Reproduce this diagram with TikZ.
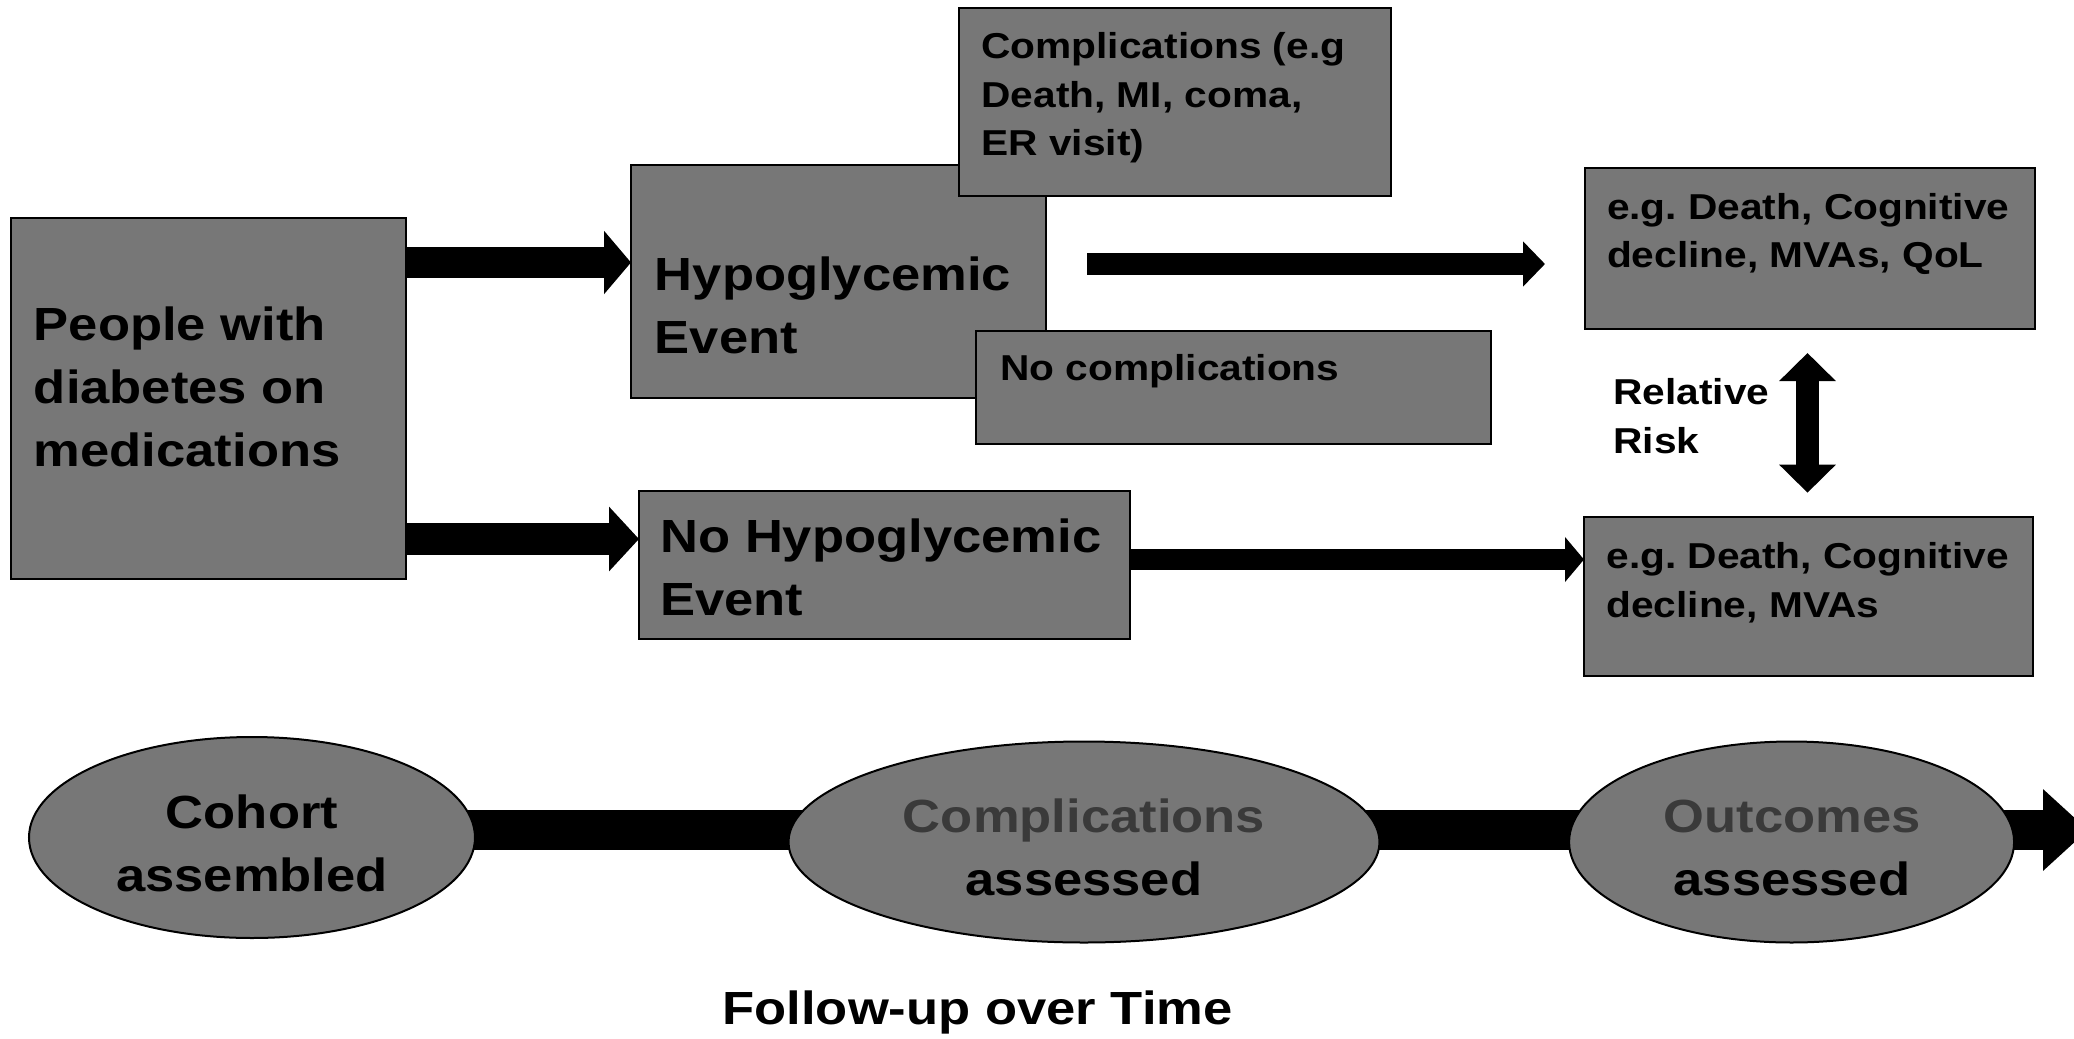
\documentclass[tikz,border=0pt]{standalone}
\usepackage{fontspec}
\setmainfont{Liberation Sans}[FakeStretch=1.13]
\usetikzlibrary{arrows.meta,shapes.geometric,backgrounds}
\definecolor{boxgray}{HTML}{777777}
\definecolor{dimtext}{HTML}{3A3A3A}
\newcommand\Lblock[1]{\vtop{\halign{##\hfil\cr#1\crcr}}}
\newcommand\Cblock[1]{\vtop{\halign{\hfil##\hfil\cr#1\crcr}}}
\frenchspacing
\begin{document}
\begin{tikzpicture}[x=0.5pt, y=-0.5pt,
  box/.style={draw=black, line width=1pt, fill=boxgray, inner sep=0pt, outer sep=0pt, anchor=north west},
  oval/.style={ellipse, draw=black, line width=1pt, fill=boxgray, inner sep=0pt, outer sep=0pt},
  bigtxt/.style={font=\bfseries\fontsize{23.25}{31.65}\selectfont, inner sep=0pt, anchor=base west},
  smalltxt/.style={font=\bfseries\fontsize{18}{24.25}\selectfont, inner sep=0pt, anchor=base west}
]
\useasboundingbox (0,0) rectangle (2074,1039);

% boxes
\node[box, minimum width=197.5pt, minimum height=180.5pt] (people) at (11,218) {};
\node[box, minimum width=207.5pt, minimum height=116.5pt] (hypo) at (631,165) {};
\node[box, minimum width=216pt, minimum height=94pt] (compl) at (959,8) {};
\node[box, minimum width=257.5pt, minimum height=56.5pt] (nocompl) at (976,331) {};
\node[box, minimum width=245.5pt, minimum height=74pt] (nohypo) at (639,491) {};
\node[box, minimum width=225pt, minimum height=80.5pt] (out1) at (1585,168) {};
\node[box, minimum width=224.5pt, minimum height=79.5pt] (out2) at (1584,517) {};

% box texts
\node[bigtxt] (tpeople) at (33.5,340) {\Lblock{People with\cr diabetes on\cr medications}};
\node[bigtxt] (thypo) at (654.5,290) {\Lblock{Hypoglycemic\cr Event}};
\node[smalltxt] (tcompl) at (981,58.5) {\Lblock{Complications (e.g\cr Death, MI, coma,\cr ER visit)}};
\node[smalltxt] (tnocompl) at (1000,380) {No complications};
\node[bigtxt] (tnohypo) at (660,552) {\Lblock{No Hypoglycemic\cr Event}};
\node[smalltxt] (tout1) at (1606.6,219) {\Lblock{e.g. Death, Cognitive\cr decline, MVAs, QoL}};
\node[smalltxt] (tout2) at (1606,568.5) {\Lblock{e.g. Death, Cognitive\cr decline, MVAs}};
\node[smalltxt] (trr) at (1613,404.5) {\Lblock{Relative\cr Risk}};

% arrows
\draw[line width=15.8pt, -{Triangle[width=31pt,length=13.5pt]}] (people.east |- 0,262.5) -- (hypo.west |- 0,262.5);
\draw[line width=16pt, -{Triangle[width=31.5pt,length=15pt]}] (people.east |- 0,539) -- (nohypo.west |- 0,539);
\coordinate (c1) at (1087,264);
\coordinate (c2) at (1545,264);
\draw[line width=11pt, -{Triangle[width=22pt,length=11pt]}] (c1) -- (c2);
\draw[line width=10.5pt, -{Triangle[width=22pt,length=9.5pt]}] (nohypo.east |- 0,559.5) -- (out2.west |- 0,559.5);
\coordinate (rrtop) at (1807.5,353);
\coordinate (rrbot) at (1807.5,492.7);
\draw[line width=11.8pt, {Triangle[width=27.5pt,length=14pt]}-{Triangle[width=27.5pt,length=14pt]}] (rrtop) -- (rrbot);

% timeline
\node[oval, minimum width=223pt, minimum height=100.5pt] (cohort) at (252,837.5) {};
\node[oval, minimum width=295.5pt, minimum height=100.5pt] (compass) at (1084,842) {};
\node[oval, minimum width=222.5pt, minimum height=100.5pt] (outass) at (1791.6,842) {};
\coordinate (tlend) at (2088,830);
\begin{scope}[on background layer]
\fill[white] (0,0) rectangle (2074,1039);
\draw[line width=20pt] (cohort.center |- 0,830) -- (compass.center |- 0,830);
\draw[line width=20pt] (compass.center |- 0,830) -- (outass.center |- 0,830);
\draw[line width=20pt, -{Triangle[width=39.5pt,length=22.5pt]}] (outass.center |- 0,830) -- (tlend);
\end{scope}
\node[bigtxt, anchor=base] (tcohort) at (252,828) {\Cblock{Cohort\cr assembled}};
\node[bigtxt, anchor=base] (tcompass) at (1084,832) {\Cblock{\textcolor{dimtext}{Complications}\cr assessed}};
\node[bigtxt, anchor=base] (toutass) at (1792,832) {\Cblock{\textcolor{dimtext}{Outcomes}\cr assessed}};
\node[bigtxt, anchor=base] (tfollow) at (977.5,1024) {Follow-up over Time};
\end{tikzpicture}
\end{document}
